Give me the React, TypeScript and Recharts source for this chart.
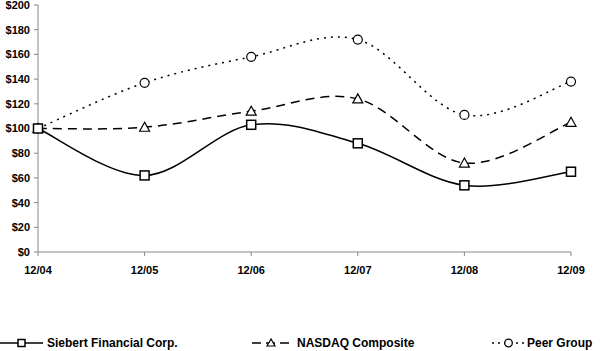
import React from "react";
import { LineChart, Line, XAxis, YAxis } from "recharts";

const categories = ["12/04", "12/05", "12/06", "12/07", "12/08", "12/09"];
const siebert = [100, 62, 103, 88, 54, 65];
const nasdaq = [100, 101, 114, 124, 72, 105];
const peer = [100, 137, 158, 172, 111, 138];
const yTicks = [0, 20, 40, 60, 80, 100, 120, 140, 160, 180, 200];

const data = categories.map((c, i) => ({
  cat: c,
  siebert: siebert[i],
  nasdaq: nasdaq[i],
  peer: peer[i],
}));

const FONT = "'Liberation Sans', Arial, sans-serif";

// Excel-like smoothed line (Catmull-Rom style Bezier)
const excelCurve: any = (context: any) => {
  let pts: number[][] = [];
  return {
    areaStart() {},
    areaEnd() {},
    lineStart() {
      pts = [];
    },
    point(x: number, y: number) {
      pts.push([+x, +y]);
    },
    lineEnd() {
      if (!pts.length) return;
      context.moveTo(pts[0][0], pts[0][1]);
      for (let i = 0; i < pts.length - 1; i++) {
        const p0 = pts[i - 1] || pts[i];
        const p1 = pts[i];
        const p2 = pts[i + 1];
        const p3 = pts[i + 2] || pts[i + 1];
        const c1x = p1[0] + (p2[0] - p0[0]) / 6;
        const c1y = p1[1] + (p2[1] - p0[1]) / 6;
        const c2x = p2[0] - (p3[0] - p1[0]) / 6;
        const c2y = p2[1] - (p3[1] - p1[1]) / 6;
        context.bezierCurveTo(c1x, c1y, c2x, c2y, p2[0], p2[1]);
      }
    },
  };
};

const SquareDot = (props: any) => {
  const { cx, cy, index } = props;
  return (
    <rect key={`s${index}`} x={cx - 4.5} y={cy - 4.5} width={9} height={9} fill="#fff" stroke="#000" strokeWidth={1.5} />
  );
};
const TriDot = (props: any) => {
  const { cx, cy, index } = props;
  return (
    <polygon key={`t${index}`} points={`${cx},${cy - 5} ${cx - 5},${cy + 4} ${cx + 5},${cy + 4}`} fill="#fff" stroke="#000" strokeWidth={1.2} />
  );
};
const CircDot = (props: any) => {
  const { cx, cy, index } = props;
  return <circle key={`c${index}`} cx={cx} cy={cy} r={4.5} fill="#fff" stroke="#000" strokeWidth={1.2} />;
};

const LegendItem = ({ left, width, dash, marker, label, gap }: any) => (
  <div style={{ position: "absolute", left, top: 335, height: 16, display: "flex", alignItems: "center" }}>
    <svg width={width} height={16}>
      <line x1={0} y1={8} x2={width} y2={8} stroke="#000" strokeWidth={1.5} strokeDasharray={dash} />
      {marker === "square" && <rect x={width / 2 - 3.5} y={4.5} width={7} height={7} fill="#fff" stroke="#000" strokeWidth={1.5} />}
      {marker === "tri" && (
        <polygon points={`${width / 2},${4} ${width / 2 - 4},${11} ${width / 2 + 4},${11}`} fill="#fff" stroke="#000" strokeWidth={1.2} />
      )}
      {marker === "circ" && <circle cx={width / 2} cy={8} r={3.8} fill="#fff" stroke="#000" strokeWidth={1.3} />}
    </svg>
    <span style={{ fontFamily: FONT, fontWeight: "bold", fontSize: 12, marginLeft: gap, whiteSpace: "nowrap" }}>{label}</span>
  </div>
);

export default function App() {
  return (
    <div style={{ position: "absolute", left: 0, top: 0, width: 600, height: 351, background: "#fff" }}>
      <LineChart width={600} height={275} data={data} margin={{ top: 5, right: 29, left: 0, bottom: 0 }}>
        <XAxis
          dataKey="cat"
          height={23}
          stroke="#888"
          tickSize={4}
          tickMargin={10}
          interval={0}
          tick={{ fill: "#000", fontFamily: FONT, fontWeight: "bold", fontSize: 11 }}
        />
        <YAxis
          width={38}
          domain={[0, 200]}
          ticks={yTicks}
          interval={0}
          stroke="#888"
          tickSize={4}
          tickMargin={4}
          tickFormatter={(v: number) => `$${v}`}
          tick={{ fill: "#000", fontFamily: FONT, fontWeight: "bold", fontSize: 11 }}
        />
        <Line dataKey="peer" type={excelCurve} stroke="#000" strokeWidth={1.5} strokeDasharray="2 5" dot={CircDot} isAnimationActive={false} />
        <Line dataKey="nasdaq" type={excelCurve} stroke="#000" strokeWidth={1.5} strokeDasharray="9 6" dot={TriDot} isAnimationActive={false} />
        <Line dataKey="siebert" type={excelCurve} stroke="#000" strokeWidth={1.5} dot={SquareDot} isAnimationActive={false} />
      </LineChart>
      <LegendItem left={0} width={43} gap={4} marker="square" label="Siebert Financial Corp." />
      <LegendItem left={252} width={38} gap={7} dash="9 5" marker="tri" label="NASDAQ Composite" />
      <LegendItem left={492} width={33} gap={2} dash="2 4" marker="circ" label="Peer Group" />
    </div>
  );
}
